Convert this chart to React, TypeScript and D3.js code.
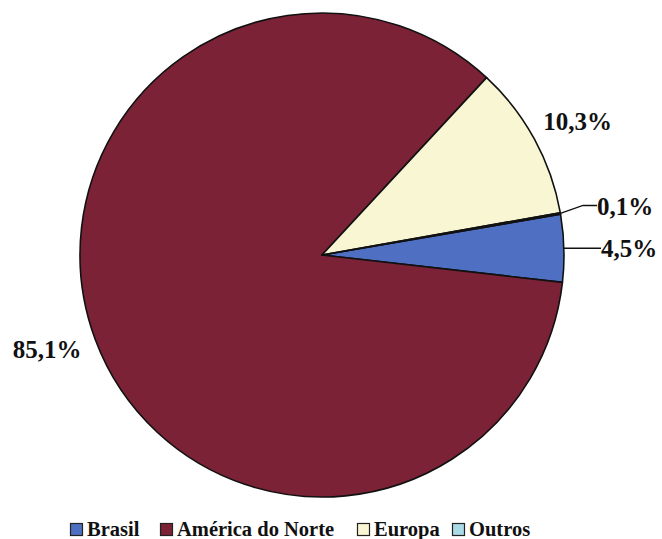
import React from "react";
import * as d3 from "d3";

const categories = ["Brasil", "América do Norte", "Europa", "Outros"];
const values = [4.5, 85.1, 10.3, 0.1];
const labels = ["4,5%", "85,1%", "10,3%", "0,1%"];
const colors = ["#4f6fc2", "#7b2236", "#f9f6d4", "#a9dbe6"];

const W = 662;
const H = 539;
const cx = 322;
const cy = 255;
const R = 242;
const startDeg = 80.3;

export default function App() {
  const pie = d3
    .pie<number>()
    .sort(null)
    .value((d) => d)
    .startAngle((startDeg * Math.PI) / 180)
    .endAngle((startDeg * Math.PI) / 180 + 2 * Math.PI);
  const arcs = pie(values);
  const arcGen = d3.arc<d3.PieArcDatum<number>>().innerRadius(0).outerRadius(R);

  const pt = (a: number, r: number) => [cx + r * Math.sin(a), cy - r * Math.cos(a)];

  const fontStyle = {
    fontFamily: '"Liberation Serif", "DejaVu Serif", "Times New Roman", serif',
    fontWeight: 700,
  } as React.CSSProperties;

  const legendX = [70, 160, 357, 452];
  const labelShift = [
    [0, 0],
    [-3, -6],
    [1, 5],
    [0, 0],
  ];

  return (
    <svg
      width={W}
      height={H}
      style={{ position: "absolute", left: 0, top: 0, background: "#ffffff" }}
    >
      <g transform={`translate(${cx},${cy})`}>
        {arcs.map((a, i) => (
          <path key={i} d={arcGen(a) || ""} fill={colors[i]} stroke="#111" strokeWidth={1.6} strokeLinejoin="round" />
        ))}
      </g>
      {arcs.map((a, i) => {
        const mid = (a.startAngle + a.endAngle) / 2;
        if (i === 0 || i === 3) {
          const [ex, ey] = pt(mid, R);
          let path: string;
          let tx: number;
          let ty: number;
          if (i === 0) {
            path = `M${ex},${ey}L${601},${ey}`;
            tx = 601;
            ty = ey;
          } else {
            path = `M${ex},${ey}L${583},${ey - 8}L${597},${ey - 8}`;
            tx = 597;
            ty = ey - 7;
          }
          return (
            <g key={i}>
              <path d={path} fill="none" stroke="#111" strokeWidth={1.3} />
              <text x={tx} y={ty} dy="0.35em" fontSize={25} fill="#111" style={fontStyle}>
                {labels[i]}
              </text>
            </g>
          );
        }
        const [lx, ly] = pt(mid, 290);
        return (
          <text
            key={i}
            x={lx + labelShift[i][0]}
            y={ly + labelShift[i][1]}
            dy="0.35em"
            textAnchor="middle"
            fontSize={25}
            fill="#111"
            style={fontStyle}
          >
            {labels[i]}
          </text>
        );
      })}
      {categories.map((c, i) => (
        <g key={c} transform={`translate(${legendX[i]},523)`}>
          <rect x={0.5} y={0.5} width={12} height={12} fill={colors[i]} stroke="#222" strokeWidth={1.2} />
          <text x={17} y={13} fontSize={20.5} fill="#111" style={fontStyle}>
            {c}
          </text>
        </g>
      ))}
    </svg>
  );
}
